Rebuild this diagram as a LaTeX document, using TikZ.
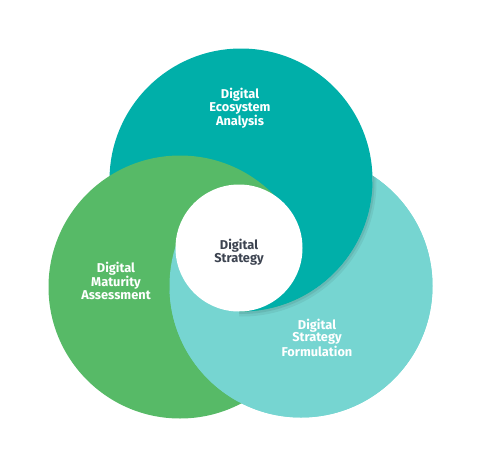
\documentclass[tikz,border=0pt]{standalone}
\usepackage{fontspec}
\setmainfont{Fira Sans}[UprightFont=* SemiBold, BoldFont=* Bold]
\definecolor{ecoteal}{HTML}{00AFA9}
\definecolor{maturegreen}{HTML}{57BA67}
\definecolor{formteal}{HTML}{76D5D1}
\definecolor{coretext}{HTML}{3C4350}

\begin{document}
\begin{tikzpicture}[x=1pt,y=-1pt,
    label/.style={align=center,text=white,font=\bfseries\fontsize{12.8}{12.7}\selectfont},
    core/.style={align=center,text=coretext,font=\bfseries\fontsize{12.8}{12.7}\selectfont}]
        \useasboundingbox (0,0) rectangle (480,466);

        % Centres
        \coordinate (eco) at (241,180);
        \coordinate (mat) at (180,287);
        \coordinate (form) at (301,286);
        \coordinate (hub) at (239,248);

        % Circles, drawn in turn
        \fill[formteal] (form) circle (131.5);
        \fill[ecoteal] (eco) circle (131.5);
        \fill[maturegreen] (mat) circle (131.5);

        % Formulation circle laps over the maturity circle, outside the ecosystem circle
        \begin{scope}
          \clip (form) circle (131.5);
          \clip (0,0) -- (480,0) -- (480,466) -- (0,466) -- cycle
                (eco) ++(131.5,0) arc[start angle=0,end angle=-360,radius=131.5] -- cycle;
          \fill[formteal] (0,0) rectangle (480,466);
          % shadow of the ecosystem circle
          \draw[black,opacity=0.06,line width=6pt] (eco) ++(1,2) circle (131.5);
          \draw[black,opacity=0.08,line width=3pt] (eco) ++(0.5,1) circle (131.5);
        \end{scope}

        % Where all three meet: light teal at the left, teal at the lower right
        \begin{scope}
          \clip (mat) circle (131.5);
          \clip (form) circle (131.5);
          \clip (hub) -- (0,128) -- (0,466) -- (239,466) -- cycle;
          \fill[formteal] (0,0) rectangle (480,466);
        \end{scope}
        \begin{scope}
          \clip (form) circle (131.5);
          \clip (hub) -- (480,128) -- (480,466) -- (239,466) -- cycle;
          \fill[ecoteal] (eco) circle (131.5);
        \end{scope}

        % Centre
        \fill[white] (hub) circle (63.5);

        % Labels
        \node[label] (ecolabel) at (240,108) {Digital\\Ecosystem\\Analysis};
        \node[label] (matlabel) at (116,281) {Digital\\Maturity\\Assessment};
        \node[label] (formlabel) at (317,337.5) {Digital\\Strategy\\Formulation};
        \node[core] (corelabel) at (hub) [yshift=-4.5pt] {Digital\\Strategy};
      \end{tikzpicture}
\end{document}
